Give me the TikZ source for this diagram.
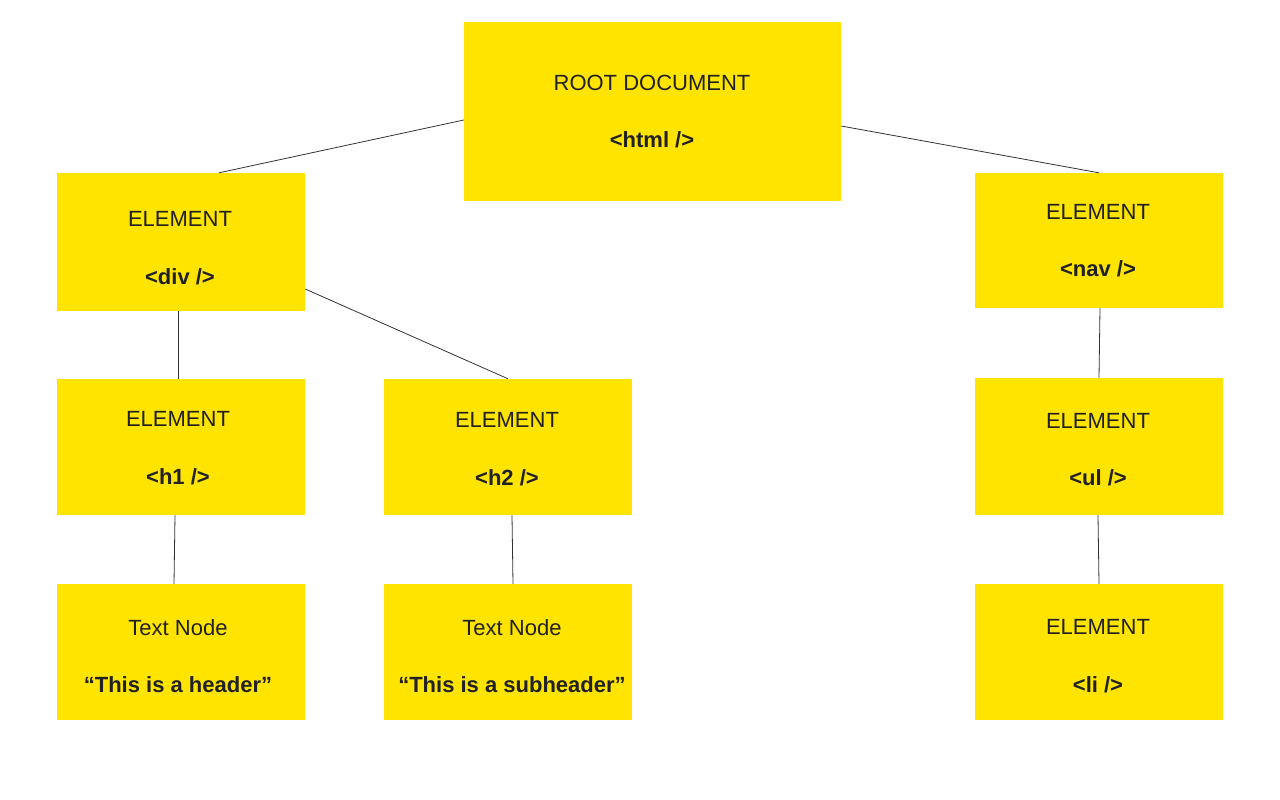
\documentclass[tikz,border=0pt]{standalone}
\usepackage{fontspec}
\setmainfont{Liberation Sans}
\definecolor{boxyellow}{HTML}{FFE400}
\definecolor{txtgray}{HTML}{212121}
\definecolor{linegray}{HTML}{333333}
\begin{document}
\begin{tikzpicture}[x=1pt,y=-1pt,
  box/.style={fill=boxyellow,draw=none,inner sep=0pt},
  lbl/.style={inner sep=0pt,align=center,text=txtgray,
    font=\fontsize{22}{57.5}\selectfont},
  link/.style={draw=linegray,line width=0.8pt}]
\useasboundingbox (0,0) rectangle (1280,800);
\node[box,minimum width=377pt,minimum height=179pt] (root) at (652.5,111.5) {};
\node[box,minimum width=248pt,minimum height=138pt] (div) at (181,242) {};
\node[box,minimum width=248pt,minimum height=135pt] (nav) at (1099,240.5) {};
\node[box,minimum width=248pt,minimum height=136pt] (h1) at (181,447) {};
\node[box,minimum width=248pt,minimum height=136pt] (h2) at (508,447) {};
\node[box,minimum width=248pt,minimum height=137pt] (ul) at (1099,446.5) {};
\node[box,minimum width=248pt,minimum height=136pt] (t1) at (181,652) {};
\node[box,minimum width=248pt,minimum height=136pt] (t2) at (508,652) {};
\node[box,minimum width=248pt,minimum height=136pt] (li) at (1099,652) {};
\node[lbl] (rootL) at ([xshift=-0.5pt,yshift=0pt]root.center) {ROOT DOCUMENT\\\textbf{<html />}};
\node[lbl] (divL) at ([xshift=-1pt,yshift=-6pt]div.center) {ELEMENT\\\textbf{<div />}};
\node[lbl] (navL) at ([xshift=-1pt,yshift=0pt]nav.center) {ELEMENT\\\textbf{<nav />}};
\node[lbl] (h1L) at ([xshift=-3pt,yshift=-1pt]h1.center) {ELEMENT\\\textbf{<h1 />}};
\node[lbl] (h2L) at ([xshift=-1pt,yshift=-2pt]h2.center) {ELEMENT\\\textbf{<h2 />}};
\node[lbl] (ulL) at ([xshift=-1pt,yshift=-3pt]ul.center) {ELEMENT\\\textbf{<ul />}};
\node[lbl] (t1L) at ([xshift=-3pt,yshift=-4pt]t1.center) {Text Node\\\textbf{“This is a header”}};
\node[lbl] (t2L) at ([xshift=4pt,yshift=-4pt]t2.center) {Text Node\\\textbf{“This is a subheader”}};
\node[lbl] (liL) at ([xshift=-1pt,yshift=-4pt]li.center) {ELEMENT\\\textbf{<li />}};
\draw[link] ([yshift=-8.5pt]root.west) -- ([xshift=38pt]div.north);
\draw[link] ([yshift=-14.5pt]root.east) -- (nav.north);
\draw[link] ([xshift=-3pt]div.south) -- ([xshift=-3pt]h1.north);
\draw[link] ([yshift=-47pt]div.east) -- (h2.north);
\draw[link] ([xshift=-6pt]h1.south) -- ([xshift=-7pt]t1.north);
\draw[link] ([xshift=4pt]h2.south) -- ([xshift=5pt]t2.north);
\draw[link] ([xshift=1pt]nav.south) -- (ul.north);
\draw[link] ([xshift=-1pt]ul.south) -- (li.north);
\end{tikzpicture}
\end{document}
